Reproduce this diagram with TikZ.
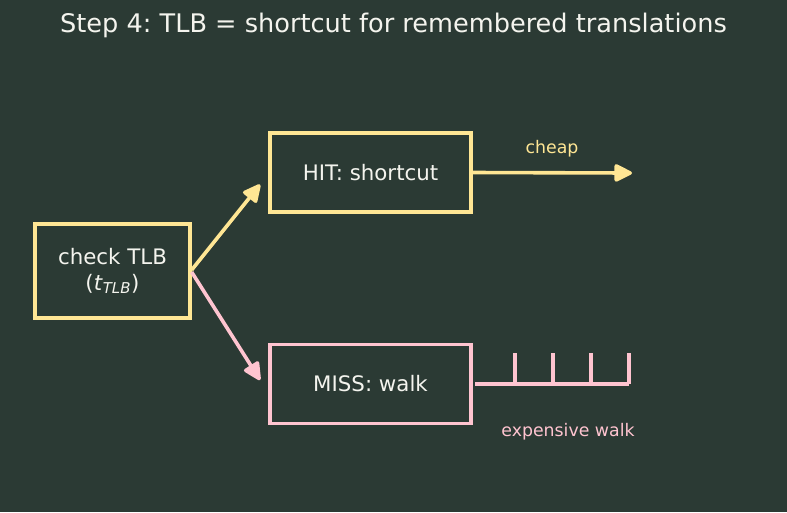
\documentclass[tikz,border=0pt]{standalone}
\usepackage{fontspec}
\setmainfont{DejaVu Sans}
\frenchspacing
\usetikzlibrary
  {
    arrows.meta,              % arrow heads
    positioning,              % place nodes relative to other nodes
    backgrounds,              % colored background area
  }
\definecolor{slate}{HTML}{2B3A34}
\definecolor{butter}{HTML}{FFE694}
\definecolor{blush}{HTML}{FFC4D0}
\definecolor{chalk}{HTML}{F4F4EE}

\begin{document}
\begin{tikzpicture}
    [
      x=0.75pt,
      y=-0.75pt,
      box/.style=
        {
          rectangle,
          line width=2.7pt,
          font=\fontsize{16}{19}\selectfont,
          text=chalk,
          align=center,
        },
      hitbox/.style=
        {
          box,
          draw=butter,
          minimum width=151pt,
          minimum height=59pt,
        },
      missbox/.style=
        {
          box,
          draw=blush,
          minimum width=151pt,
          minimum height=59pt,
        },
      link/.style=
        {
          line width=2.7pt,
          -{Triangle[length=15pt,width=14pt,round]},
        },
      note/.style=
        {
          font=\fontsize{13}{15}\selectfont,
        },
    ]
    \fill [slate] (0,0) rectangle (787,512);
    \useasboundingbox (0,0) rectangle (787,512);

    \node (title) [text=chalk, font=\fontsize{19.2}{23}\selectfont] at (393.5,25) {Step 4: TLB = shortcut for remembered translations};

    \node (check) [box, draw=butter, minimum width=116pt, minimum height=70.5pt] at (112.5,271)
      {check TLB\\(\textit{t}\textsubscript{\textit{TLB}})};
    \node (hit) [hitbox] at (370.5,172.5) {HIT: shortcut};
    \node (miss) [missbox] at (370.5,384) {MISS: walk};

    \coordinate (cheapend) at (632,173);
    \coordinate (walkstart) at (475,384);
    \coordinate (walkend) at (629,384);

    % hit and miss paths
    \draw [link, butter] ([yshift=0.75pt]check.east) -- ([shift={(-8,12)}]hit.west);
    \draw [link, blush] ([yshift=-0.75pt]check.east) -- ([shift={(-8,-4)}]miss.west);

    % cheap shortcut
    \draw [link, butter] (hit.east) -- (cheapend);
    \node (cheap) [note, text=butter] at (552,149) {cheap};

    % expensive walk with steps
    \draw [line width=2.7pt, blush] (walkstart) -- (walkend)
      \foreach \px in {515,553,591,629} { (\px,384) -- (\px,353) };
    \node (walk) [note, text=blush] at (568,432) {expensive walk};
  \end{tikzpicture}
\end{document}
